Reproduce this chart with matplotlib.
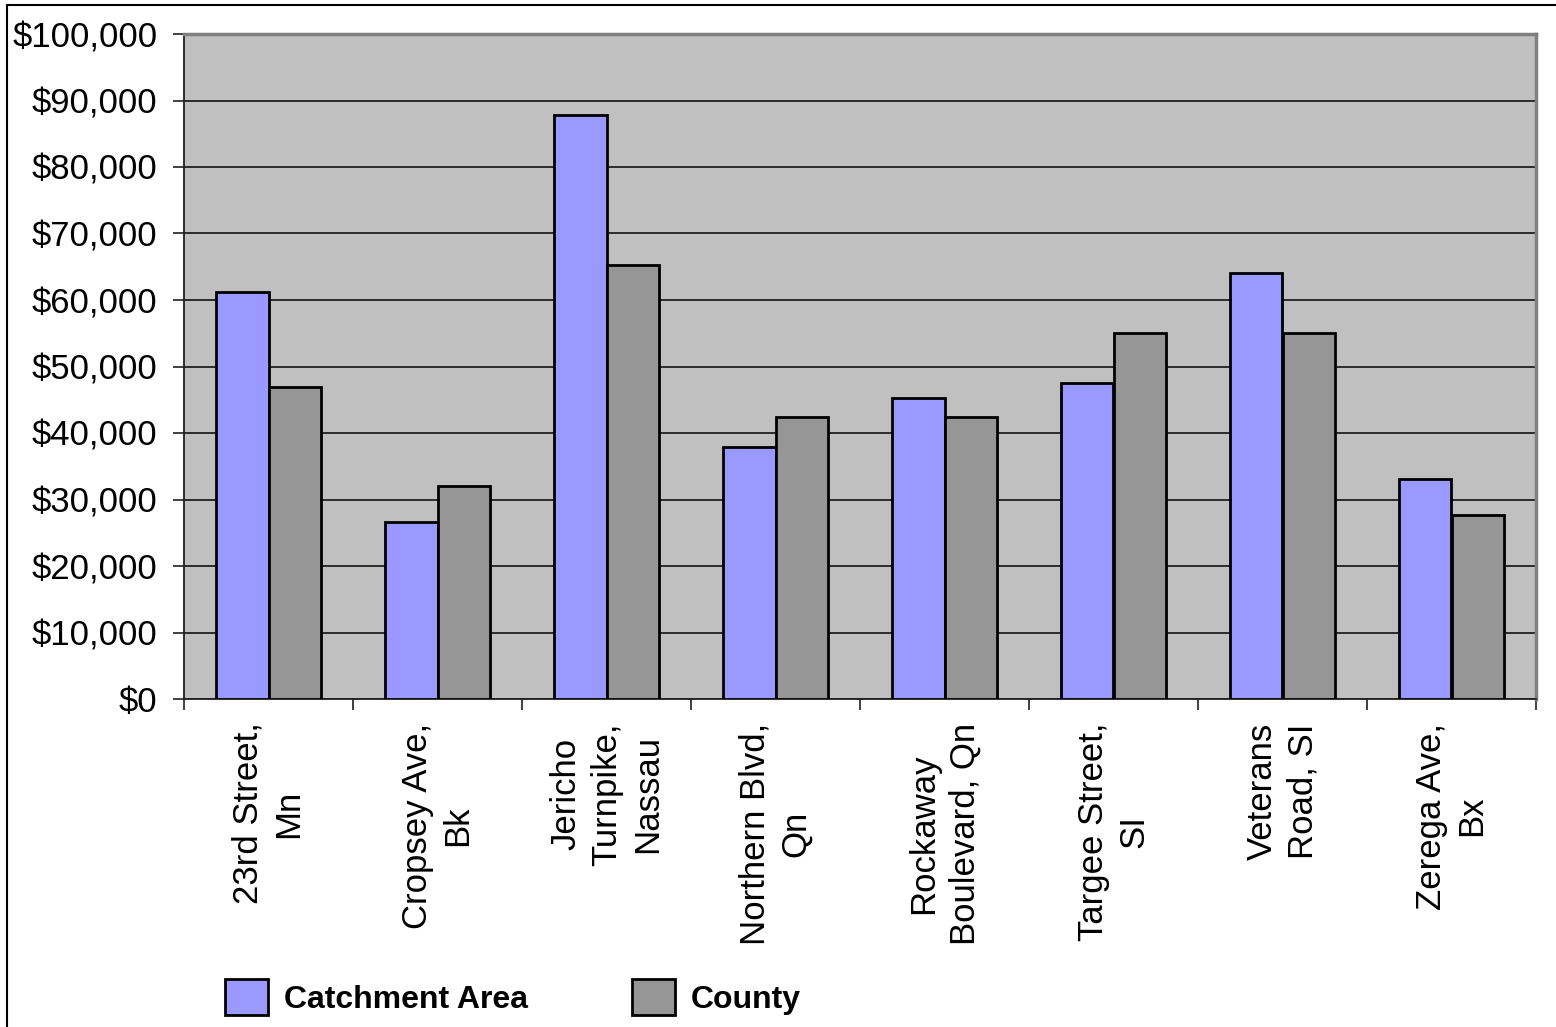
import numpy as np
import matplotlib
matplotlib.use("Agg")
from matplotlib import pyplot as plt
from matplotlib.patches import Rectangle, Patch
from matplotlib.ticker import FuncFormatter, MultipleLocator

plt.rcParams['font.family'] = ['Liberation Sans', 'DejaVu Sans']

sites = ["23rd Street,\nMn", "Cropsey Ave,\nBk", "Jericho\nTurnpike,\nNassau",
         "Northern Blvd,\nQn", "Rockaway\nBoulevard, Qn", "Targee Street,\nSI",
         "Veterans\nRoad, SI", "Zerega Ave,\nBx"]
catchment = [61200, 26600, 87800, 37900, 45300, 47500, 64100, 33100]
county = [46900, 32100, 65300, 42400, 42400, 55000, 55000, 27600]

fig = plt.figure(figsize=(15.56, 10.27), dpi=100)
ax = fig.add_axes([184/1556, 1-699/1027, 1352/1556, 665/1027])

# outer chart border
fig.patches.append(Rectangle((7/1556, -0.02), 1.05, 1-5/1027+0.02, transform=fig.transFigure,
                             fill=False, edgecolor='black', linewidth=1.5))

x = np.arange(len(sites))
w = 0.31
ax.set_facecolor('#C0C0C0')
ax.bar(x - w/2, catchment, w, color='#9999FF', edgecolor='black', linewidth=2, zorder=3)
ax.bar(x + w/2, county, w, color='#969696', edgecolor='black', linewidth=2, zorder=3)

ax.set_xlim(-0.5, len(sites) - 0.5)
ax.set_ylim(0, 100000)
ax.yaxis.set_major_locator(MultipleLocator(10000))
ax.yaxis.set_major_formatter(FuncFormatter(lambda v, p: "${:,.0f}".format(v)))
ax.grid(axis='y', color='#202020', linewidth=1.3, zorder=1)

ax.set_xticks(np.arange(len(sites) + 1) - 0.5)
ax.set_xticklabels([])
ax.tick_params(axis='x', length=8, width=1.2, direction='out', color='#202020')
ax.tick_params(axis='y', length=8, width=1.2, direction='out', color='#202020',
               labelsize=25, pad=11)

for s in ['top', 'right']:
    ax.spines[s].set_color('#808080')
    ax.spines[s].set_linewidth(2.5)
ax.spines['left'].set_color('#202020')
ax.spines['bottom'].set_color('#202020')
ax.spines['left'].set_linewidth(1.3)
ax.spines['bottom'].set_linewidth(1.3)

for i, lab in enumerate(sites):
    ax.annotate(lab, xy=(i, 0), xycoords=('data', 'axes fraction'),
                xytext=(0, -17), textcoords='offset points',
                rotation=90, ha='center', va='top', multialignment='center',
                fontsize=25, linespacing=1.3)

handles = [Patch(facecolor='#9999FF', edgecolor='black', linewidth=2),
           Patch(facecolor='#969696', edgecolor='black', linewidth=2)]
fig.legend(handles, ["Catchment Area", "County"], loc='center left',
           bbox_to_anchor=(196/1556, 1-997/1027), ncol=2, frameon=False,
           prop={'size': 23, 'weight': 'bold'}, handlelength=1.35, handleheight=1.35,
           handletextpad=0.5, columnspacing=3.25)

fig.savefig("out.png", dpi=100, facecolor='white')
